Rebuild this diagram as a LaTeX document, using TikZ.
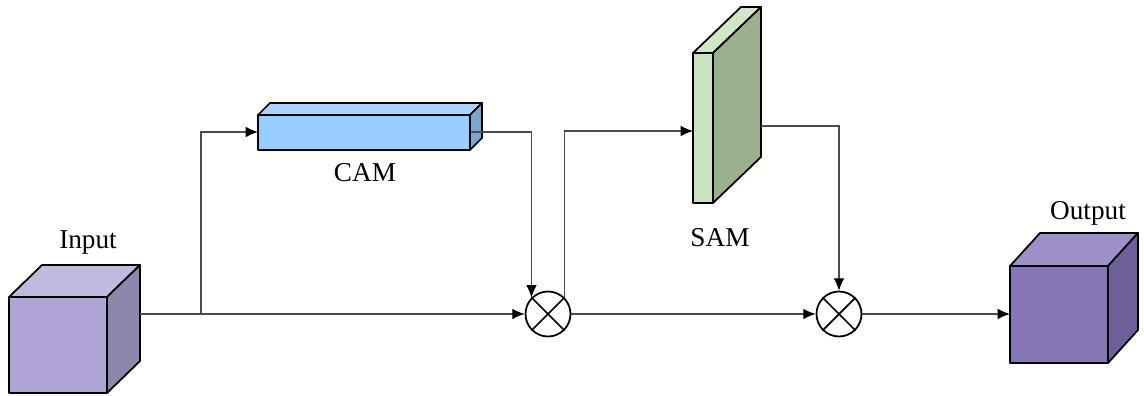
\documentclass[tikz,border=0pt]{standalone}
\usepackage{fontspec}
\setmainfont{Liberation Serif}
\usepackage{xcolor}
\usepackage{tikz}
\usetikzlibrary{calc}
\usetikzlibrary{arrows.meta}
\definecolor{inFront}{HTML}{B0A4D4}
\definecolor{inTop}{HTML}{C1B9DE}
\definecolor{inSide}{HTML}{8E86AC}
\definecolor{camFront}{HTML}{99CCFF}
\definecolor{camTop}{HTML}{A8D4FF}
\definecolor{camSide}{HTML}{7BA7CF}
\definecolor{samFront}{HTML}{CAE3BF}
\definecolor{samTop}{HTML}{D2E7C8}
\definecolor{samSide}{HTML}{9CB08E}
\definecolor{outFront}{HTML}{8676B8}
\definecolor{outTop}{HTML}{A090C9}
\definecolor{outSide}{HTML}{6E6098}
% front corner (x,y), width, height, depth dx, dy, then the three face colours
\newcommand{\cuboid}[9]{
	\filldraw[fill=#7,line width=1pt,line join=round] (#1,#2) rectangle ({#1+#3},{#2+#4});
	\filldraw[fill=#8,line width=1pt,line join=round] (#1,#2) -- ++(#5,-#6) -- ++(#3,0) -- ++(-#5,#6) -- cycle;
	\filldraw[fill=#9,line width=1pt,line join=round] ({#1+#3},#2) -- ++(#5,-#6) -- ++(0,#4) -- ++(-#5,#6) -- cycle;
	}

\begin{document}
\begin{tikzpicture}[x=0.02cm,y=-0.02cm,font=\fontsize{15.5}{18}\selectfont,
	conn/.style={draw=black!70,line width=0.6pt},
	arr/.style={-{Latex[length=7pt,width=6pt,color=black]}},
	mul/.style={circle,draw,line width=1pt,minimum size=0.9cm,inner sep=0pt}]
					\useasboundingbox (0,0) rectangle (1144,396);
					\cuboid{9}{297}{98}{96}{33}{32}{inFront}{inTop}{inSide}
					\cuboid{258}{115}{212}{35}{12}{12}{camFront}{camTop}{camSide}
					\cuboid{693}{53}{20}{150}{48}{46}{samFront}{samTop}{samSide}
					\cuboid{1010}{266}{98}{97}{30}{33}{outFront}{outTop}{outSide}
					\node[mul] (mul1) at (548,314) {};
					\node[mul] (mul2) at (839,314) {};
					\foreach \m in {mul1,mul2}
						\draw[line width=1pt] (\m.north west) -- (\m.south east) (\m.north east) -- (\m.south west);
					\coordinate (inp) at (140,314);
					\coordinate (split) at (201,314);
					\coordinate (camIn) at (258,132);
					\coordinate (camOut) at (471,132);
					\coordinate (samIn) at (693,131);
					\coordinate (samOut) at (761,126);
					\coordinate (outIn) at (1010,314);
					\draw[conn] (inp) -- (split);
					\draw[conn,arr] (split) -- (mul1.west);
					\draw[conn,arr] (split) |- (camIn);
					\draw[conn,arr] (camOut) -| (mul1.north west);
					\draw[conn,arr] (mul1.north east) |- (samIn);
					\draw[conn,arr] (samOut) -| (mul2.north);
					\draw[conn,arr] (mul1.east) -- (mul2.west);
					\draw[conn,arr] (mul2.east) -- (outIn);
					\node (inLabel) at (88,242) {Input};
					\node (camLabel) at (365,173) {CAM};
					\node (samLabel) at (720,238) {SAM};
					\node (outLabel) at (1088,213) {Output};
				\end{tikzpicture}
\end{document}
